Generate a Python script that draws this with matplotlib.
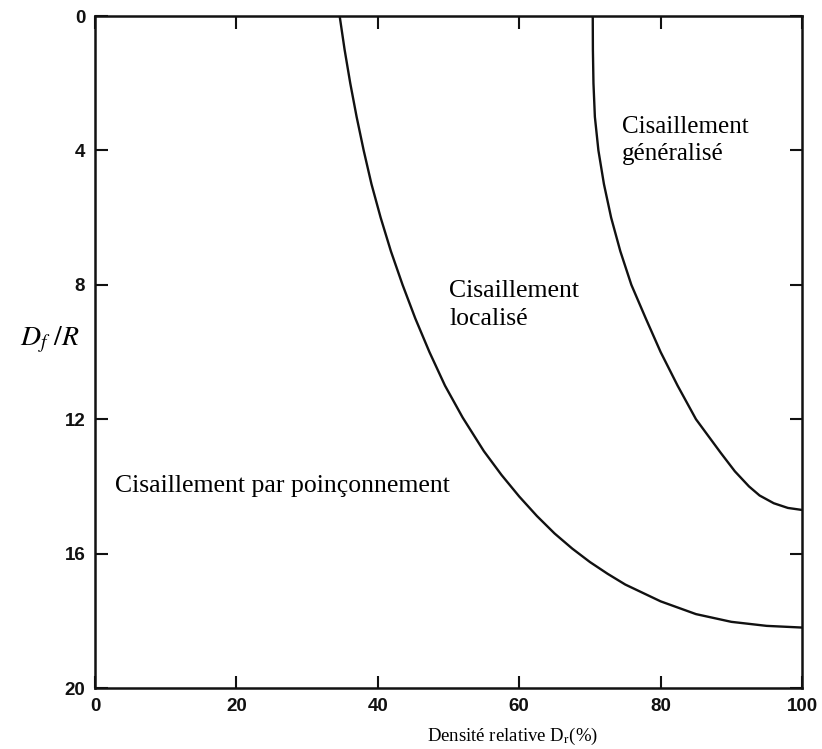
import matplotlib
matplotlib.use('Agg')
from matplotlib import pyplot as plt

# Courbes : densité relative (%) et Df/R
limite_locale_x = [34.6, 35.3, 36.1, 37.0, 38.0, 39.1, 40.4, 41.85, 43.5, 45.3,
                   47.3, 49.5, 52.0, 55.0, 57.5, 60.0, 62.5, 65.0, 67.5, 70.0,
                   72.5, 75.0, 80.0, 85.0, 90.0, 95.0, 100.0]
limite_locale_y = [0.0, 1.0, 2.0, 3.0, 4.0, 5.0, 6.0, 7.0, 8.0, 9.0,
                   10.0, 11.0, 11.95, 12.95, 13.66, 14.3, 14.88, 15.4, 15.85, 16.25,
                   16.6, 16.92, 17.42, 17.8, 18.03, 18.15, 18.2]

limite_generale_x = [70.4, 70.42, 70.5, 70.7, 71.2, 71.98, 73.0, 74.3, 75.86,
                     77.9, 80.0, 82.4, 85.0, 88.5, 90.5, 92.5, 94.0, 96.0,
                     98.0, 100.0]
limite_generale_y = [0.0, 1.0, 2.0, 3.0, 4.0, 5.0, 6.0, 7.0, 8.0,
                     9.0, 10.0, 11.0, 12.0, 13.0, 13.55, 14.0, 14.27, 14.5,
                     14.64, 14.7]

x_ticks = [0, 20, 40, 60, 80, 100]
y_ticks = [0, 4, 8, 12, 16, 20]

plt.rcParams['mathtext.fontset'] = 'stix'

fig = plt.figure(figsize=(8.22, 7.49), dpi=100)
ax = fig.add_axes([0.1156, 0.0814, 0.8601, 0.8972])

ax.plot(limite_locale_x, limite_locale_y, color='#111111', lw=1.7)
ax.plot(limite_generale_x, limite_generale_y, color='#111111', lw=1.7)

ax.set_xlim(0, 100)
ax.set_ylim(20, 0)
ax.set_xticks(x_ticks)
ax.set_yticks(y_ticks)
ax.tick_params(direction='in', length=9, width=1.5, top=True, right=True,
               labelsize=13.5, pad=7, colors='#111111')
for lab in ax.get_xticklabels() + ax.get_yticklabels():
    lab.set_family('Liberation Sans')
    lab.set_fontweight('bold')
for s in ax.spines.values():
    s.set_linewidth(1.8)
    s.set_color('#111111')

serif = 'Liberation Serif'
ax.text(2.8, 14.0, 'Cisaillement par poinçonnement', family=serif,
        fontsize=18.5, va='center', ha='left')
ax.text(50.1, 8.6, 'Cisaillement\nlocalisé', family=serif, fontsize=18.5,
        va='center', ha='left', linespacing=1.3)
ax.text(74.5, 3.7, 'Cisaillement\ngénéralisé', family=serif, fontsize=18,
        va='center', ha='left', linespacing=1.3)

ax.text(59.0, 21.45, 'Densité relative D$_\\mathrm{r}$(%)', family=serif,
        fontsize=13.5, ha='center', va='center')
ax.text(-0.064, 0.518, '$D_f\\ /R$', transform=ax.transAxes, fontsize=20,
        ha='center', va='center')

plt.savefig('out.png', dpi=100)
